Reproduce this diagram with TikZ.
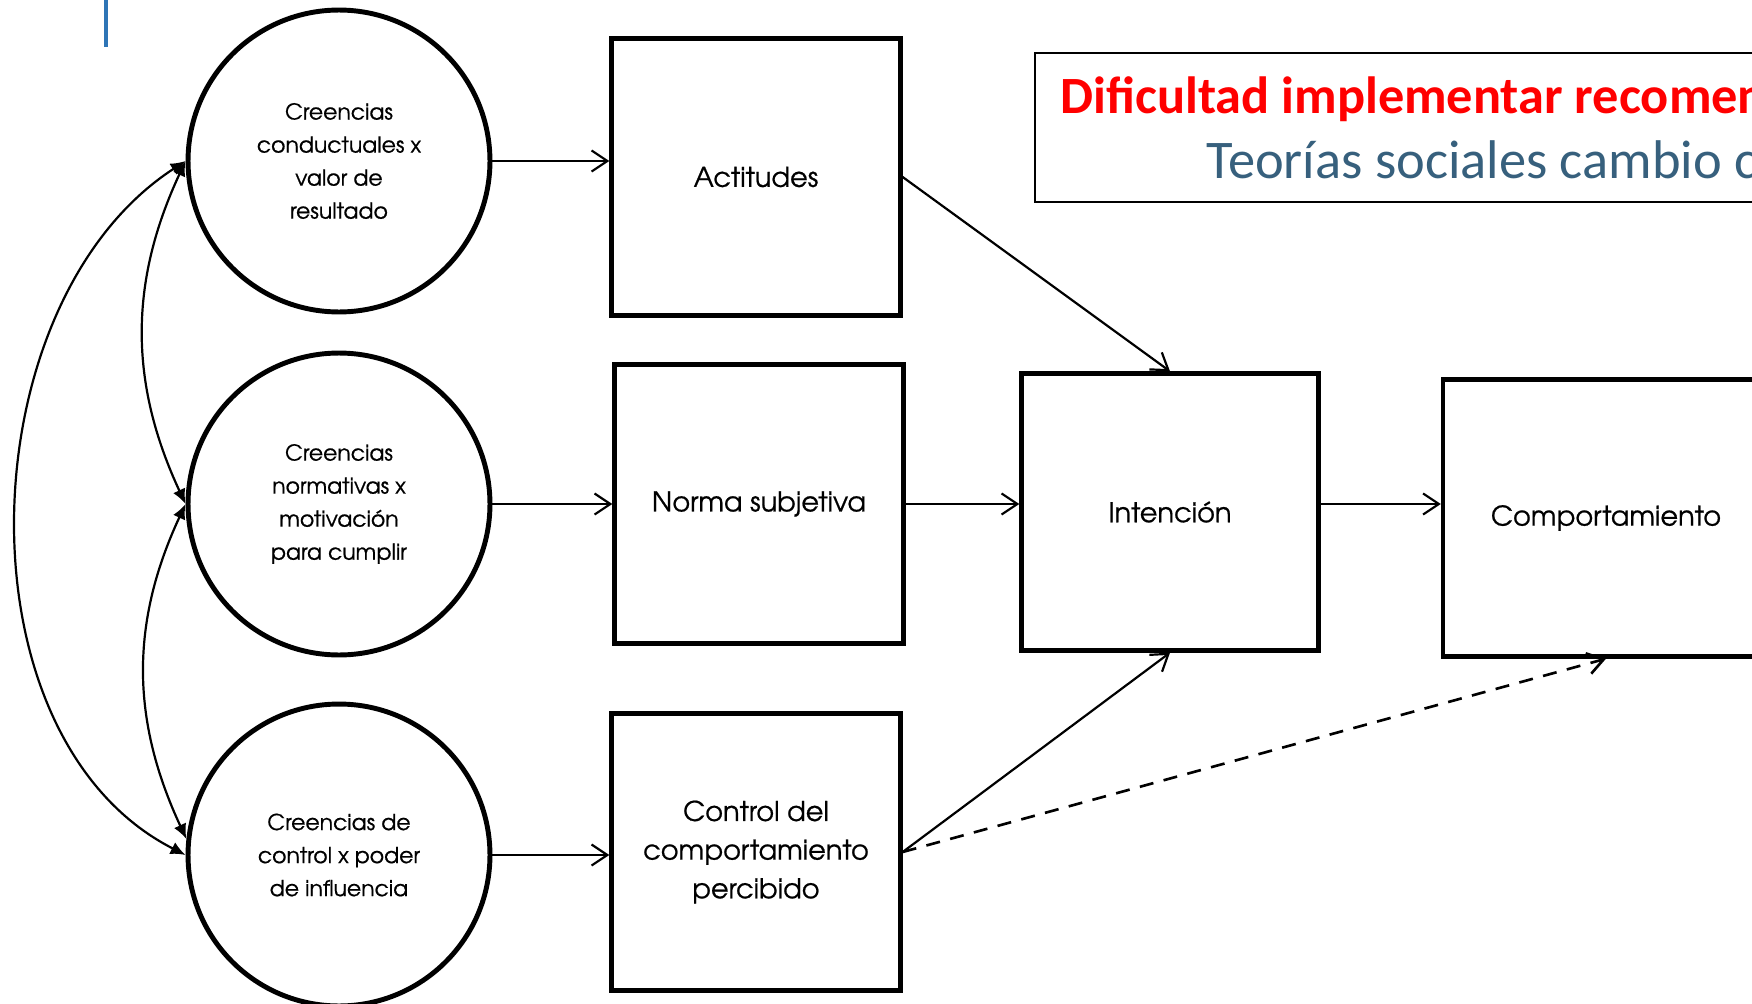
\documentclass[tikz,border=0pt]{standalone}
\usepackage{fontspec}
\setmainfont{TeX Gyre Adventor}[FakeBold=0.7]
\newfontfamily\slidefont{Carlito}
\usetikzlibrary{arrows.meta}

\definecolor{titlered}{RGB}{255,0,0}
\definecolor{subtitleblue}{RGB}{55,96,125}
\definecolor{barblue}{RGB}{46,117,182}

\begin{document}
\begin{tikzpicture}[x=0.02cm, y=0.02cm,
		belief/.style={circle, draw, line width=2.8pt, minimum size=6.04cm, inner sep=0pt, align=center, font=\fontsize{12.5}{18.8}\selectfont},
		factor/.style={rectangle, draw, line width=2.5pt, minimum width=5.78cm, minimum height=5.54cm, align=center, font=\fontsize{15.5}{22}\selectfont},
		flow/.style={-{Straight Barb[length=9pt, width=12pt]}, line width=1.25pt},
		link/.style={arrows={Latex[length=8.5pt, width=7.5pt]-Latex[length=8.5pt, width=7.5pt]}, line width=1.25pt}]
		%fix the page to the size of the slide cut-out
		\useasboundingbox (0,0) rectangle (1752,-1004);
		\clip (0,0) rectangle (1752,-1004);

		%the small blue mark in the corner of the slide
		\draw[barblue, line width=2.3pt] (106,0) -- (106,-47);

		%the three kinds of beliefs on the left
		\node[belief] (cbeh) at (339,-161) {Creencias\\conductuales x\\valor de\\resultado};
		\node[belief] (cnorm) at (339,-504) {Creencias\\normativas x\\motivación\\para cumplir};
		\node[belief] (cctrl) at (339,-855) {Creencias de\\control x poder\\de influencia};

		%the factors they feed into
		\node[factor] (att) at (756,-177) {Actitudes};
		\node[factor, minimum height=5.58cm] (sn) at (759,-504) {Norma subjetiva};
		\node[factor] (pbc) at (756,-852) {Control del\\comportamiento\\percibido};
		\node[factor, minimum width=5.94cm] (int) at (1170,-512) {Intención};
		\node[factor, minimum width=6.52cm] (beh) at (1606,-518) {Comportamiento};

		%correlations between the beliefs
		\draw[link] (cbeh.west) to[out=245, in=115] (cnorm.west);
		\draw[link] (cnorm.west) to[out=245, in=115] (cctrl.174);
		\draw[link] (cbeh.west) to[out=213, in=153, looseness=0.96] (cctrl.west);

		%beliefs -> factors
		\draw[flow] (cbeh.east) -- (cbeh.east -| att.west);
		\draw[flow] (cnorm.east) -- (cnorm.east -| sn.west);
		\draw[flow] (cctrl.east) -- (cctrl.east -| pbc.west);

		%factors -> intention -> behaviour
		\draw[flow] (att.east) -- (int.north);
		\draw[flow] (sn.east) -- (sn.east -| int.west);
		\draw[flow] (pbc.east) -- (int.south);
		\draw[flow] (sn.east -| int.east) -- (sn.east -| beh.west);
		\draw[flow, line width=1.5pt, dash pattern=on 8pt off 6pt] (pbc.east) -- (beh.south);

		%title box of the slide, cut off at the right
		\draw[line width=1.1pt] (1035,-53) rectangle (1790,-202);
		\node[anchor=base west, inner sep=0pt, text=titlered, font=\slidefont\bfseries\fontsize{29.8}{36}\selectfont] (title) at (1060,-113) {Dificultad implementar recomen};
		\node[anchor=base west, inner sep=0pt, text=subtitleblue, font=\slidefont\fontsize{31}{37}\selectfont] (subtitle) at (1206,-178) {Teorías sociales cambio co};
	\end{tikzpicture}
\end{document}
